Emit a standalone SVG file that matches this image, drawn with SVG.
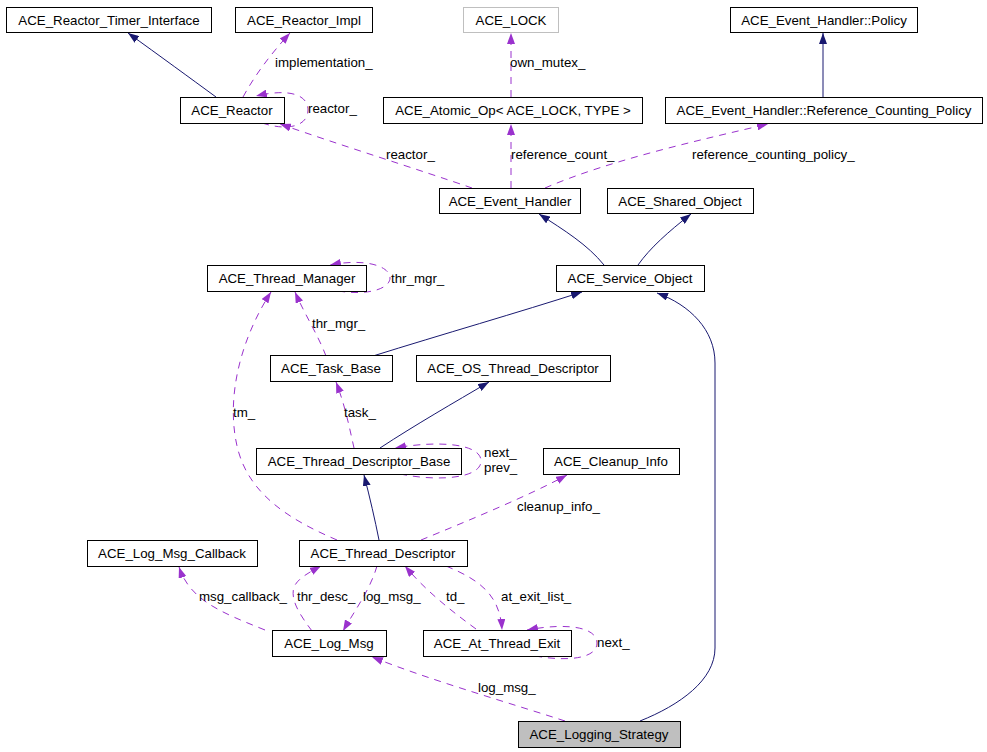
<svg xmlns="http://www.w3.org/2000/svg" width="987" height="752" viewBox="0 0 987 752">
<style>
.box{fill:#ffffff;stroke:#000000;stroke-width:1}
.grey{fill:#ffffff;stroke:#bfbfbf;stroke-width:1}
.cur{fill:#bfbfbf;stroke:#000000;stroke-width:1}
text{font-family:"Liberation Sans",Arial,sans-serif;font-size:13.3px;fill:#000000}
.c{text-anchor:middle}
.inh{fill:none;stroke:#191970;stroke-width:1}
.use{fill:none;stroke:#9a32cd;stroke-width:1;stroke-dasharray:7,6}
</style>
<defs>
<marker id="an" viewBox="0 0 11 8" refX="11" refY="4" markerWidth="11" markerHeight="8" markerUnits="userSpaceOnUse" orient="auto">
<path d="M0,0 L11,4 L0,8 z" fill="#191970"/>
</marker>
<marker id="ap" viewBox="0 0 11 8" refX="11" refY="4" markerWidth="11" markerHeight="8" markerUnits="userSpaceOnUse" orient="auto">
<path d="M0,0 L11,4 L0,8 z" fill="#9a32cd"/>
</marker>
</defs>
<rect width="987" height="752" fill="#ffffff"/>

<g id="connectors">
<path class="inh" marker-end="url(#an)" d="M216,97 C190,78 160,56 128,33"/>
<path class="inh" marker-end="url(#an)" d="M823,97 L823,33"/>
<path class="inh" marker-end="url(#an)" d="M604,265 C588,245 564,230 539,214"/>
<path class="inh" marker-end="url(#an)" d="M638,265 C650,248 668,232 691,214"/>
<path class="inh" marker-end="url(#an)" d="M373,356 C440,335 520,312 582,292"/>
<path class="inh" marker-end="url(#an)" d="M380,448 C415,425 455,402 489,382"/>
<path class="inh" marker-end="url(#an)" d="M379,540 C375,520 370,498 364,475"/>
<path class="inh" marker-end="url(#an)" d="M640,721 C680,705 715,680 715,648 L715,363 C715,330 690,305 657,293"/>

<path class="use" marker-end="url(#ap)" d="M243,97 C255,75 270,55 290,33"/>
<path class="use" marker-end="url(#ap)" d="M262,123 C290,132 308,125 308,110 C308,95 290,88 256,96"/>
<path class="use" marker-end="url(#ap)" d="M472,188 C420,170 340,145 280,124"/>
<path class="use" marker-end="url(#ap)" d="M511,188 L511,124"/>
<path class="use" marker-end="url(#ap)" d="M511,97 L511,33"/>
<path class="use" marker-end="url(#ap)" d="M545,188 C610,160 700,140 768,124"/>
<path class="use" marker-end="url(#ap)" d="M338,291 C370,296 390,288 390,278 C390,266 365,258 330,265"/>
<path class="use" marker-end="url(#ap)" d="M326,356 C318,335 305,315 295,292"/>
<path class="use" marker-end="url(#ap)" d="M337,540 C290,520 250,495 238,450 C225,400 240,340 271,292"/>
<path class="use" marker-end="url(#ap)" d="M354,448 C350,430 345,405 336,382"/>
<path class="use" marker-end="url(#ap)" d="M400,474 C440,482 481,478 481,461 C481,444 440,440 395,448"/>
<path class="use" marker-end="url(#ap)" d="M421,540 C470,520 530,495 567,475"/>
<path class="use" marker-end="url(#ap)" d="M265,630 C220,612 190,600 179,567"/>
<path class="use" marker-end="url(#ap)" d="M312,631 C300,615 290,600 294,587 C298,578 310,572 321,566"/>
<path class="use" marker-end="url(#ap)" d="M377,566 C370,590 355,610 343,631"/>
<path class="use" marker-end="url(#ap)" d="M476,629 C450,610 425,590 405,566"/>
<path class="use" marker-end="url(#ap)" d="M446,566 C480,580 500,595 502,630"/>
<path class="use" marker-end="url(#ap)" d="M535,656 C570,662 597,658 597,643 C597,628 570,622 527,630"/>
<path class="use" marker-end="url(#ap)" d="M565,721 C500,700 430,680 372,657"/>

<text x="275" y="67">implementation_</text>
<text x="308" y="113">reactor_</text>
<text x="386" y="159">reactor_</text>
<text x="510" y="67">own_mutex_</text>
<text x="511" y="159">reference_count_</text>
<text x="692" y="159">reference_counting_policy_</text>
<text x="391" y="283">thr_mgr_</text>
<text x="312" y="328">thr_mgr_</text>
<text x="233" y="417">tm_</text>
<text x="344" y="417">task_</text>
<text x="484" y="457">next_</text>
<text x="484" y="472">prev_</text>
<text x="517" y="511">cleanup_info_</text>
<text x="199" y="601">msg_callback_</text>
<text x="297" y="601">thr_desc_</text>
<text x="363" y="601">log_msg_</text>
<text x="446" y="601">td_</text>
<text x="501" y="601">at_exit_list_</text>
<text x="597" y="647">next_</text>
<text x="478" y="692">log_msg_</text>
</g>

<g id="n_timer"><rect class="box" x="6.5" y="7.5" width="205" height="25"/><text class="c" x="109" y="25">ACE_Reactor_Timer_Interface</text></g>
<g id="n_impl"><rect class="box" x="235.5" y="7.5" width="137" height="25"/><text class="c" x="304" y="25">ACE_Reactor_Impl</text></g>
<g id="n_lock"><rect class="grey" x="463.5" y="7.5" width="95" height="25"/><text class="c" x="511" y="25">ACE_LOCK</text></g>
<g id="n_policy"><rect class="box" x="730.5" y="7.5" width="187" height="25"/><text class="c" x="824" y="25">ACE_Event_Handler::Policy</text></g>
<g id="n_reactor"><rect class="box" x="180.5" y="97.5" width="104" height="26"/><text class="c" x="232" y="115">ACE_Reactor</text></g>
<g id="n_atomic"><rect class="box" x="383.5" y="97.5" width="259" height="26"/><text class="c" x="513" y="115">ACE_Atomic_Op&lt; ACE_LOCK, TYPE &gt;</text></g>
<g id="n_refpolicy"><rect class="box" x="665.5" y="97.5" width="317" height="26"/><text class="c" x="824" y="115">ACE_Event_Handler::Reference_Counting_Policy</text></g>
<g id="n_eh"><rect class="box" x="439.5" y="188.5" width="141" height="25"/><text class="c" x="510" y="206">ACE_Event_Handler</text></g>
<g id="n_shared"><rect class="box" x="607.5" y="188.5" width="146" height="25"/><text class="c" x="680" y="206">ACE_Shared_Object</text></g>
<g id="n_thrmgr"><rect class="box" x="207.5" y="265.5" width="159" height="26"/><text class="c" x="287" y="283">ACE_Thread_Manager</text></g>
<g id="n_svc"><rect class="box" x="556.5" y="265.5" width="148" height="26"/><text class="c" x="630" y="283">ACE_Service_Object</text></g>
<g id="n_task"><rect class="box" x="270.5" y="355.5" width="122" height="26"/><text class="c" x="331" y="373">ACE_Task_Base</text></g>
<g id="n_ostd"><rect class="box" x="416.5" y="355.5" width="194" height="26"/><text class="c" x="513" y="373">ACE_OS_Thread_Descriptor</text></g>
<g id="n_tdb"><rect class="box" x="256.5" y="448.5" width="205" height="26"/><text class="c" x="359" y="466">ACE_Thread_Descriptor_Base</text></g>
<g id="n_cleanup"><rect class="box" x="543.5" y="448.5" width="136" height="26"/><text class="c" x="611" y="466">ACE_Cleanup_Info</text></g>
<g id="n_cb"><rect class="box" x="87.5" y="540.5" width="170" height="26"/><text class="c" x="172" y="558">ACE_Log_Msg_Callback</text></g>
<g id="n_td"><rect class="box" x="299.5" y="540.5" width="168" height="26"/><text class="c" x="383" y="558">ACE_Thread_Descriptor</text></g>
<g id="n_logmsg"><rect class="box" x="272.5" y="630.5" width="114" height="26"/><text class="c" x="329" y="648">ACE_Log_Msg</text></g>
<g id="n_ate"><rect class="box" x="423.5" y="630.5" width="148" height="26"/><text class="c" x="497" y="648">ACE_At_Thread_Exit</text></g>
<g id="n_ls"><rect class="cur" x="518.5" y="721.5" width="162" height="26"/><text class="c" x="599" y="739">ACE_Logging_Strategy</text></g>
</svg>
